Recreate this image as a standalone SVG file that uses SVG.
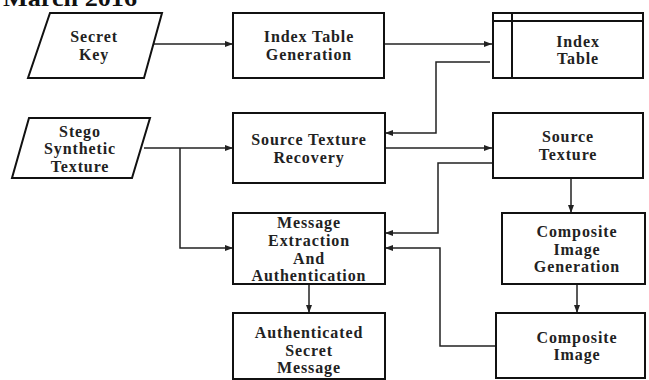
<svg xmlns="http://www.w3.org/2000/svg" width="649" height="380" viewBox="0 0 649 380">
<style>
.box{fill:#fff;stroke:#111;stroke-width:2}
.t{font-family:'Liberation Serif','Times New Roman',serif;font-weight:bold;font-size:16px;letter-spacing:0.9px;fill:#222;text-anchor:middle}
.c{fill:none;stroke:#222;stroke-width:1.5}
</style>
<defs>
<marker id="ah" viewBox="0 0 8 8" refX="8" refY="4" markerWidth="8" markerHeight="8" markerUnits="userSpaceOnUse" orient="auto">
<path d="M0,1 L8,4 L0,7 Z" fill="#222"/>
</marker>
</defs>
<text x="3" y="6" font-family="'Liberation Serif', serif" font-weight="bold" font-size="24" textLength="134" lengthAdjust="spacingAndGlyphs" fill="#111">March 2016</text>
<g id="connectors">
<path class="c" d="M154,44 H233" marker-end="url(#ah)"/>
<path class="c" d="M385,44 H492" marker-end="url(#ah)"/>
<path class="c" d="M490,62 H436 V133 H385" marker-end="url(#ah)"/>
<path class="c" d="M144,148 H233" marker-end="url(#ah)"/>
<path class="c" d="M180,148 V248 H233" marker-end="url(#ah)"/>
<path class="c" d="M385,148 H492" marker-end="url(#ah)"/>
<path class="c" d="M493,163 H438 V233 H385" marker-end="url(#ah)"/>
<path class="c" d="M571,178 V213" marker-end="url(#ah)"/>
<path class="c" d="M577,284 V313" marker-end="url(#ah)"/>
<path class="c" d="M496,346 H440 V248 H385" marker-end="url(#ah)"/>
<path class="c" d="M309,284 V313" marker-end="url(#ah)"/>
</g>
<g id="secret-key">
<polygon class="box" points="50,13 162,13 144,78 28,78"/>
<text class="t" x="94" y="42">Secret</text>
<text class="t" x="94" y="60">Key</text>
</g>
<g id="index-table-generation">
<rect class="box" x="233" y="13" width="151" height="65"/>
<text class="t" x="309" y="42">Index Table</text>
<text class="t" x="309" y="60">Generation</text>
</g>
<g id="index-table">
<rect class="box" x="493" y="13" width="150" height="65"/>
<line class="box" x1="493" y1="21" x2="643" y2="21"/>
<line class="box" x1="512" y1="13" x2="512" y2="78"/>
<text class="t" x="578" y="47">Index</text>
<text class="t" x="578" y="64">Table</text>
</g>
<g id="stego-synthetic-texture">
<polygon class="box" points="29,118 150,118 132,178 12,178"/>
<text class="t" x="80" y="137">Stego</text>
<text class="t" x="80" y="154">Synthetic</text>
<text class="t" x="80" y="172">Texture</text>
</g>
<g id="source-texture-recovery">
<rect class="box" x="233" y="113" width="152" height="70"/>
<text class="t" x="309" y="145">Source Texture</text>
<text class="t" x="309" y="163">Recovery</text>
</g>
<g id="source-texture">
<rect class="box" x="493" y="113" width="150" height="65"/>
<text class="t" x="568" y="142">Source</text>
<text class="t" x="568" y="160">Texture</text>
</g>
<g id="message-extraction">
<rect class="box" x="233" y="213" width="152" height="71"/>
<text class="t" x="309" y="228">Message</text>
<text class="t" x="309" y="246">Extraction</text>
<text class="t" x="309" y="264">And</text>
<text class="t" x="309" y="281">Authentication</text>
</g>
<g id="composite-image-generation">
<rect class="box" x="502" y="213" width="143" height="71"/>
<text class="t" x="577" y="237">Composite</text>
<text class="t" x="577" y="255">Image</text>
<text class="t" x="577" y="272">Generation</text>
</g>
<g id="authenticated-secret-message">
<rect class="box" x="233" y="313" width="152" height="66"/>
<text class="t" x="309" y="338">Authenticated</text>
<text class="t" x="309" y="356">Secret</text>
<text class="t" x="309" y="373">Message</text>
</g>
<g id="composite-image">
<rect class="box" x="496" y="313" width="149" height="65"/>
<text class="t" x="577" y="343">Composite</text>
<text class="t" x="577" y="360">Image</text>
</g>
</svg>
